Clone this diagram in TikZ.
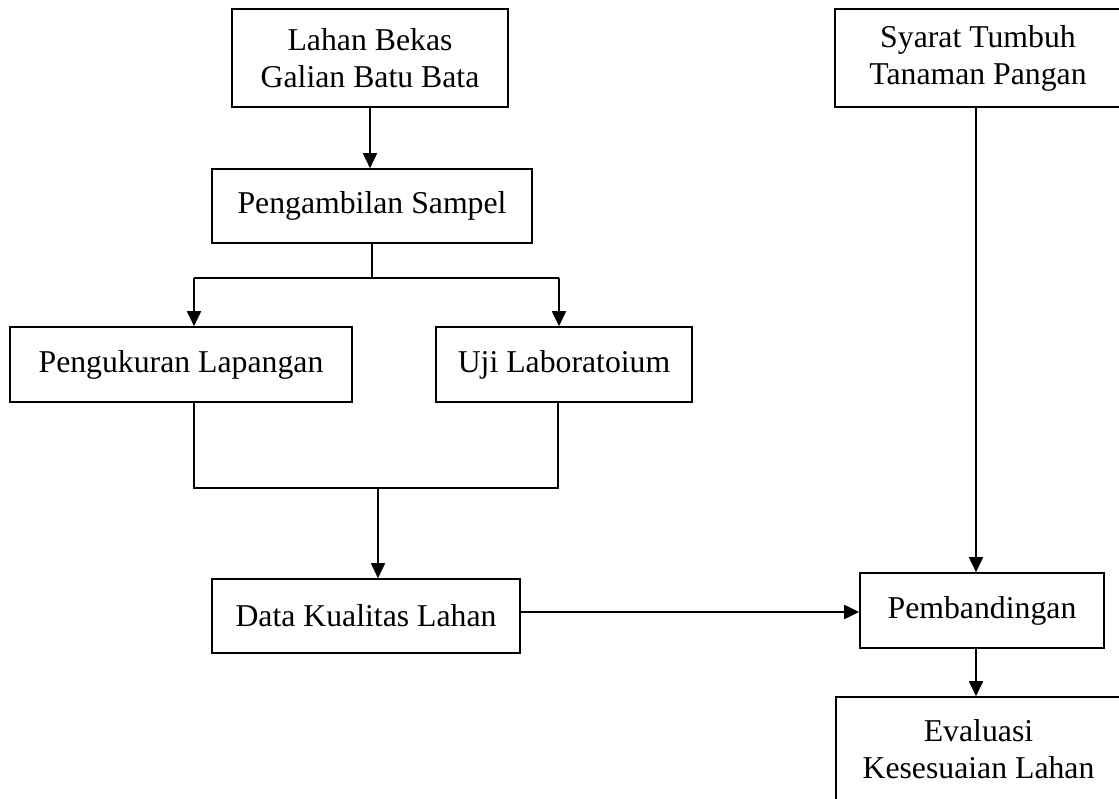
\documentclass[tikz,border=0pt]{standalone}
\usepackage{fontspec}
\setmainfont{Liberation Serif}
\usetikzlibrary{arrows.meta}
\begin{document}
\begin{tikzpicture}[x=1pt,y=-1pt,
  box/.style={draw,line width=1.6pt,rectangle,inner sep=0pt,align=center,
    font=\fontsize{31.75}{37}\selectfont},
  ln/.style={line width=1.8pt},
  arr/.style={line width=1.8pt,-{Triangle[length=15pt,width=14pt]}}]
\useasboundingbox (0,0) rectangle (1119,799);
\clip (0,0) rectangle (1119,799);
\node[box,minimum width=276pt,minimum height=98pt] (lahan) at (370,58) {Lahan Bekas\\Galian Batu Bata};
\node[box,minimum width=286pt,minimum height=98pt] (syarat) at (978,58) {Syarat Tumbuh\\Tanaman Pangan};
\node[box,minimum width=320pt,minimum height=74pt] (ambil) at (372,206) {Pengambilan Sampel};
\node[box,minimum width=342pt,minimum height=75pt] (ukur) at (181,364.5) {Pengukuran Lapangan};
\node[box,minimum width=256pt,minimum height=75pt] (uji) at (564,364.5) {Uji Laboratoium};
\node[box,minimum width=308pt,minimum height=74pt] (data) at (366,616) {Data Kualitas Lahan};
\node[box,minimum width=244pt,minimum height=75pt] (banding) at (982,610.5) {Pembandingan};
\node[box,minimum width=285pt,minimum height=104pt] (eval) at (978.5,749) {Evaluasi\\Kesesuaian Lahan};
% coordinates
\coordinate (split) at (374,278);
\coordinate (sl) at (194,278);
\coordinate (sr) at (559,278);
\coordinate (jl) at (194,488);
\coordinate (jr) at (558,488);
\coordinate (jm) at (378,488);
\coordinate (sx) at (976,0);
% connectors
\draw[arr] (lahan.south) -- (lahan.south |- ambil.north);
\draw[ln] (ambil.south) -- (ambil.south |- split);
\draw[ln] (sl) -- (sr);
\draw[arr] (sl) -- (sl |- ukur.north);
\draw[arr] (sr) -- (sr |- uji.north);
\draw[ln] (jl |- ukur.south) -- (jl) -- (jr) -- (jr |- uji.south);
\draw[arr] (jm) -- (jm |- data.north);
\draw[arr] (data.east |- 0,612) -- (banding.west |- 0,612);
\draw[arr] (sx |- syarat.south) -- (sx |- banding.north);
\draw[arr] (sx |- banding.south) -- (sx |- eval.north);
\end{tikzpicture}
\end{document}
